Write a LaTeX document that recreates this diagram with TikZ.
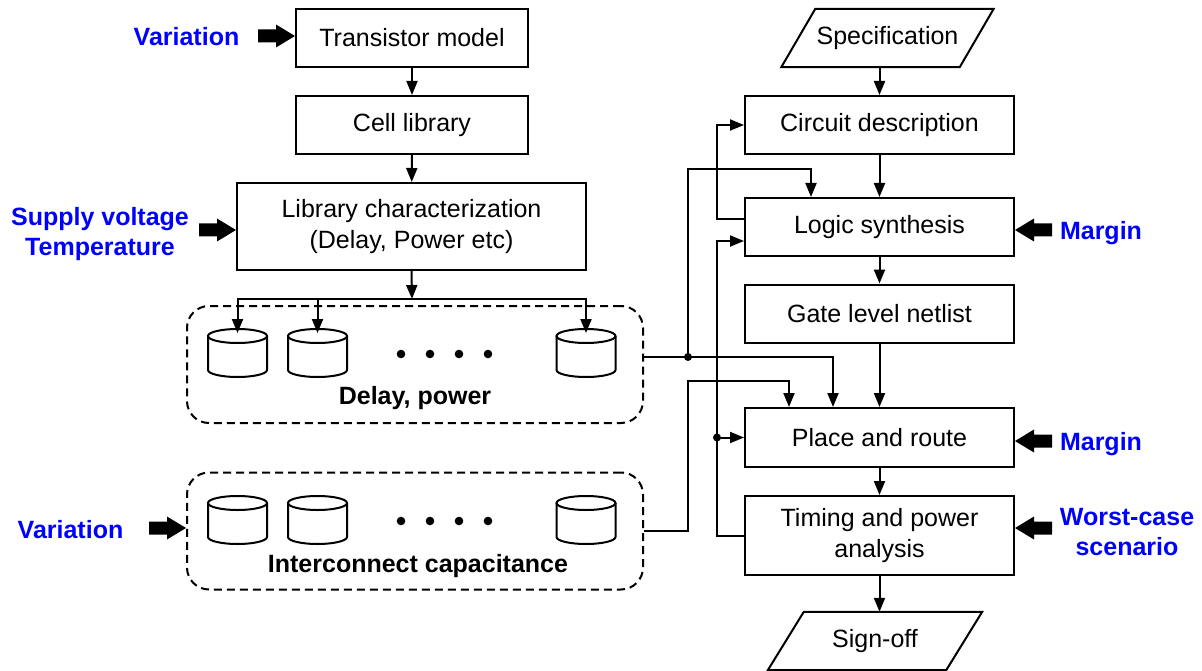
\documentclass[tikz,border=0pt]{standalone}
\usepackage{fontspec}
\setmainfont{Liberation Sans}
\usetikzlibrary{arrows.meta}
\definecolor{lblue}{RGB}{0,0,255}
\tikzset{
  arr/.style={line width=2pt, -{Triangle[length=14pt,width=11pt]}},
}
\begin{document}
\begin{tikzpicture}[x=1pt,y=-1pt,
  font=\fontsize{25}{30.5}\selectfont,
  box/.style={draw, line width=2pt, minimum height=58pt, inner sep=0pt, align=center},
  rbox/.style={box, minimum width=269pt},
  lbox/.style={box, minimum width=232pt},
  plain/.style={inner sep=0pt, minimum height=58pt, align=center},
  lbl/.style={text=lblue, font=\fontsize{25}{30.5}\selectfont\bfseries, align=center},
  glbl/.style={font=\fontsize{25}{30.5}\selectfont\bfseries},
  ln/.style={line width=2pt},
  grp/.style={draw, dash pattern=on 8pt off 5pt, rounded corners=22pt, line width=2pt,
              minimum width=456pt, minimum height=117pt, inner sep=0pt},
  fatarr/.pic={\fill (-37,-6.5) -- (-19,-6.5) -- (-19,-11.5) -- (0,0) -- (-19,11.5) -- (-19,6.5) -- (-37,6.5) -- cycle;},
  db/.pic={
    \draw[line width=2pt, fill=white] (0,0) ellipse [x radius=29.5pt, y radius=7pt];
    \draw[line width=2pt] (-29.5,0) -- (-29.5,34) arc[start angle=180, end angle=360, x radius=29.5pt, y radius=7pt] -- (29.5,0);
    \coordinate (-top) at (0,-3);
  },
  jdot/.style={fill, circle, inner sep=0pt, minimum size=8pt},
  edot/.style={fill, circle, inner sep=0pt, minimum size=8.6pt}
]
\useasboundingbox (0,0) rectangle (1202,671);

% ---------- left column ----------
\node[lbox] (tm) at (412,38) {Transistor model};
\node[lbox] (cl) at (412,125) {Cell library};
\node[box, minimum width=349pt, minimum height=87pt] (lc) at (411.5,226.5) {Library characterization\\(Delay, Power etc)};

\node[grp] (dp) at (415,364.5) {};
\node[glbl] (dpl) at (415,398) {Delay, power};
\node[grp] (ic) at (415,531) {};
\node[glbl] (icl) at (418,566) {Interconnect capacitance};

\pic (c1) at (237.5,336) {db};
\pic (c2) at (317.5,336) {db};
\pic (c3) at (586,336) {db};
\pic (d1) at (237.5,503) {db};
\pic (d2) at (317.5,503) {db};
\pic (d3) at (586,503) {db};

\foreach \i/\x in {1/401,2/430,3/459,4/488}{
  \node[edot] (ea\i) at (\x,354) {};
  \node[edot] (eb\i) at (\x,521) {};
}

\draw[arr] (tm) -- (cl);
\draw[arr] (cl) -- (lc);
\coordinate (bus) at (412,299);
\draw[arr] (lc.south) -- (bus);
\draw[arr] (bus) -| (c1-top);
\draw[arr] (bus) -| (c2-top);
\draw[arr] (bus) -| (c3-top);

% ---------- right column ----------
\node[plain, minimum width=178pt] (sp) at (887.5,38) {Specification};
\draw[ln] ([xshift=-17pt]sp.south west) -- ([xshift=17pt]sp.north west) -- ([xshift=17pt]sp.north east) -- ([xshift=-17pt]sp.south east) -- cycle;
\node[rbox] (cd) at (879.5,125) {Circuit description};
\node[rbox] (ls) at (879.5,227) {Logic synthesis};
\node[rbox] (gl) at (879.5,313.5) {Gate level netlist};
\node[rbox, minimum height=59pt] (pr) at (879.5,437.5) {Place and route};
\node[rbox, minimum height=79pt] (tp) at (879.5,535.5) {Timing and power\\analysis};
\node[plain, minimum width=178pt] (so) at (875,641) {Sign-off};
\draw[ln] ([xshift=-18pt]so.south west) -- ([xshift=18pt]so.north west) -- ([xshift=18pt]so.north east) -- ([xshift=-18pt]so.south east) -- cycle;

\draw[arr] (sp.south -| cd.north) -- (cd.north);
\draw[arr] (cd) -- (ls);
\draw[arr] (ls) -- (gl);
\draw[arr] (gl) -- (pr);
\draw[arr] (pr) -- (tp);
\draw[arr] (tp.south) -- (tp.south |- so.north);

% ---------- feedback and cross connections ----------
\coordinate (f1a) at (717,219);
\draw[arr] (f1a -| ls.west) -- (f1a) |- (cd.west);
\coordinate (f2a) at (717,535.5);
\coordinate (f2b) at (717,241);
\draw[arr] (tp.west) -- (f2a) -- (f2b) -- (f2b -| ls.west);
\coordinate (j2) at (pr.west -| f2a);
\node[jdot] (j2d) at (j2) {};
\draw[arr] (j2) -- (pr.west);

\draw[arr] ([yshift=7.5pt]dp.east) -| ([xshift=-46.5pt]pr.north);
\coordinate (j1) at (688,357);
\node[jdot] (j1d) at (j1) {};
\coordinate (t1) at (688,169);
\draw[arr] (j1) -- (t1) -| ([xshift=-68.5pt]ls.north);
\coordinate (t2) at (688,381);
\draw[arr] (ic.east) -| (t2) -| ([xshift=-90.5pt]pr.north);

% ---------- inputs ----------
\node[lbl] (v1) at (186.5,37) {Variation};
\node[lbl] (sv) at (100,234) {Supply voltage\\Temperature};
\node[lbl] (v2) at (70.5,530) {Variation};
\node[lbl] (m1) at (1101,233) {Margin};
\node[lbl] (m2) at (1101,444) {Margin};
\node[lbl] (wc) at (1127,532) {Worst-case\\scenario};

\pic at ([yshift=2pt]tm.west) {fatarr};
\pic at ([yshift=-3.5pt]lc.west) {fatarr};
\pic at ([yshift=3pt]ic.west) {fatarr};
\pic[rotate=180] at ([yshift=-3pt]ls.east) {fatarr};
\pic[rotate=180] at ([yshift=-3.5pt]pr.east) {fatarr};
\pic[rotate=180] at ([yshift=7.5pt]tp.east) {fatarr};
\end{tikzpicture}
\end{document}
